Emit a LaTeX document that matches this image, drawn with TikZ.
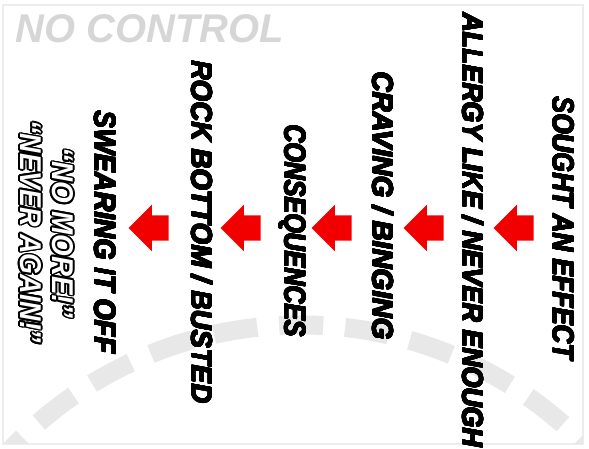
\documentclass[tikz,border=0pt]{standalone}
\usepackage{fontspec}
\setmainfont{Liberation Sans}
\usepackage{graphicx}
\usepackage{contour}
\usetikzlibrary{shapes.arrows}
\definecolor{arrowred}{HTML}{F20000}
\definecolor{ringgray}{HTML}{E8E8E8}
\definecolor{framegray}{HTML}{EDEDED}
\definecolor{titlegray}{HTML}{D6D6D6}
\newcommand{\phasetext}[2]{\resizebox{#1}{21pt}{\bfseries\itshape #2}}
\tikzset{
  phase/.style={rotate=-90, inner sep=0pt},
  shout/.style={rotate=-90, inner sep=0pt, text=white},
  pointer/.style={single arrow, fill=arrowred, draw=none,
    inner xsep=0pt, inner ysep=12.5pt,
    minimum height=40pt, minimum width=46pt,
    single arrow head extend=10.5pt, shape border rotate=180}
}

\begin{document}
\begin{tikzpicture}[x=1pt,y=1pt]
    \useasboundingbox (0,0) rectangle (589,449);
    % frame and dashed ring
    \draw[framegray, line width=2pt] (3,5) rectangle (583,444);
    \begin{scope}
      \clip (3,5) rectangle (583,444);
      \draw[ringgray, line width=19pt, dash pattern=on 44pt off 22pt]
        (300,-274) ++(150:398) arc[start angle=150, end angle=30, radius=398];
    \end{scope}
    \node[text=titlegray] (nocontrol) at (150,420)
      {\resizebox{268pt}{28pt}{\bfseries\itshape NO CONTROL}};
    % phases, right to left
    \contourlength{0.45pt}
    \node[phase] (sought) at (563,221) {\contour{black}{\phasetext{263pt}{SOUGHT AN EFFECT}}};
    \node[phase] (allergy) at (473,219) {\contour{black}{\phasetext{434pt}{ALLERGY LIKE / NEVER ENOUGH}}};
    \node[phase] (craving) at (383,243) {\contour{black}{\phasetext{268pt}{CRAVING / BINGING}}};
    \node[phase] (conseq) at (292,218) {\contour{black}{\phasetext{212pt}{CONSEQUENCES}}};
    \node[phase] (rock) at (202,217) {\contour{black}{\phasetext{343pt}{ROCK BOTTOM / BUSTED}}};
    \node[phase] (swearing) at (105,217) {\contour{black}{\phasetext{243pt}{SWEARING IT OFF}}};
    \contourlength{1.6pt}
    \node[shout] (nomore) at (62,216) {\contour{black}{\phasetext{170pt}{“NO MORE!”}}};
    \node[shout] (neveragain) at (30,217) {\contour{black}{\phasetext{223pt}{“NEVER AGAIN!”}}};
    % arrows between the phases
    \foreach \x [count=\i] in {520,430,338,247,155}
      \node[pointer] (arrow\i) at (\x,221) {};
  \end{tikzpicture}
\end{document}
